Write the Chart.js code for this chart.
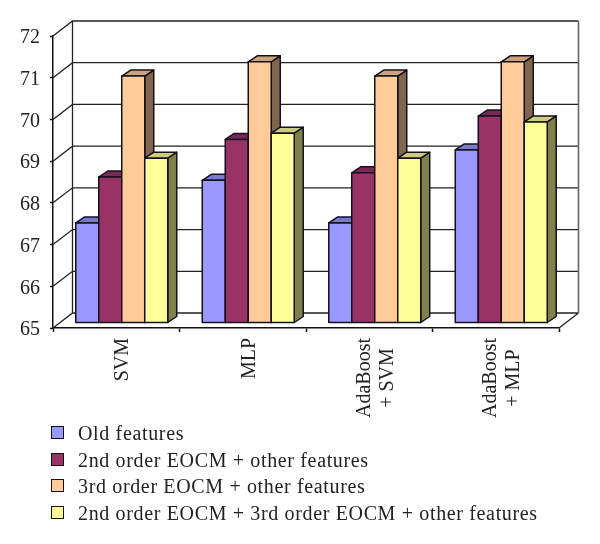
<!DOCTYPE html>
<html>
<head>
<meta charset="utf-8">
<script src="https://cdn.jsdelivr.net/npm/chart.js@4"></script>
<style>
  body { margin: 0; background: #fff; }
  #wrap { position: relative; width: 600px; height: 544px; }
  #legend { position: absolute; left: 51px; top: 419px; font: 20px "Liberation Serif", serif; letter-spacing: 0.65px; color: #222; }
  #legend div { position: relative; height: 26.7px; line-height: 26.7px; padding-left: 27px; white-space: nowrap; }
  #legend span { position: relative; top: 1px; }
  #legend i { position: absolute; left: 0; top: 7px; width: 11px; height: 11px; border: 1.5px solid #111; }
</style>
</head>
<body>
<div id="wrap">
  <canvas id="chart" width="600" height="544"></canvas>
  <div id="legend"></div>
</div>
<script>
const categories = [['SVM'], ['MLP'], ['AdaBoost', '+ SVM'], ['AdaBoost', '+ MLP']];
const seriesNames = [
  'Old features',
  '2nd order EOCM + other features',
  '3rd order EOCM + other features',
  '2nd order EOCM + 3rd order EOCM + other features'
];
const oldFeatures = [67.4, 68.42, 67.4, 69.15];
const secondOrder = [68.5, 69.4, 68.6, 69.96];
const thirdOrder = [70.92, 71.26, 70.92, 71.26];
const combined = [68.95, 69.55, 68.95, 69.82];

const frontColors = ['#9999ff', '#993366', '#ffcc99', '#ffff99'];
const topColors = ['#7a7acc', '#7a2952', '#cca37a', '#cccc7a'];
const sideColors = ['#4d4d80', '#4d1a33', '#80664d', '#80804d'];

const yMin = 65, yMax = 72;

// depth of the 3d box, and how far bars sit in front of the back wall
const wallDx = 19.5, wallDy = -15;
const barDx = 9, barDy = -6;
const shiftX = 5.5, shiftY = -5;

function poly(ctx, pts, fill) {
  ctx.beginPath();
  pts.forEach((p, i) => i ? ctx.lineTo(p[0], p[1]) : ctx.moveTo(p[0], p[1]));
  ctx.closePath();
  ctx.fillStyle = fill;
  ctx.fill();
  ctx.stroke();
}

// Draw each bar as a little box instead of a flat rectangle
Chart.BarElement.prototype.draw = function (ctx) {
  const i = frontColors.indexOf(this.options.backgroundColor);
  const l = this.x - this.width / 2 + shiftX;
  const r = this.x + this.width / 2 + shiftX;
  const t = this.y + shiftY;
  const b = this.base + shiftY;
  ctx.save();
  ctx.strokeStyle = '#14101c';
  ctx.lineWidth = 1.5;
  ctx.lineJoin = 'round';
  poly(ctx, [[r, t], [r + barDx, t + barDy], [r + barDx, b + barDy], [r, b]], sideColors[i]);
  poly(ctx, [[l, t], [l + barDx, t + barDy], [r + barDx, t + barDy], [r, t]], topColors[i]);
  poly(ctx, [[l, t], [r, t], [r, b], [l, b]], frontColors[i]);
  ctx.restore();
};

// Back wall, side wall and floor behind the bars
const wallPlugin = {
  id: 'walls',
  beforeDatasetsDraw(chart) {
    const { ctx, chartArea: a, scales: { y } } = chart;
    ctx.save();
    ctx.strokeStyle = '#222';
    ctx.lineWidth = 1.3;
    ctx.beginPath();
    y.ticks.forEach(tick => {
      const py = y.getPixelForValue(tick.value);
      ctx.moveTo(a.left, py);
      ctx.lineTo(a.left + wallDx, py + wallDy);
      ctx.lineTo(a.right + wallDx, py + wallDy);
    });
    ctx.moveTo(a.left + wallDx, a.top + wallDy);
    ctx.lineTo(a.left + wallDx, a.bottom + wallDy);
    ctx.moveTo(a.right, a.bottom);
    ctx.lineTo(a.right + wallDx, a.bottom + wallDy);
    ctx.stroke();
    ctx.strokeStyle = '#666';
    ctx.lineWidth = 1.6;
    ctx.beginPath();
    ctx.moveTo(a.right + wallDx, a.top + wallDy);
    ctx.lineTo(a.right + wallDx, a.bottom + wallDy);
    ctx.stroke();
    ctx.restore();

    // Chart.js paints the last dataset first; here the boxes have to overlap left to right
    chart.data.datasets.forEach((d, i) => chart.getDatasetMeta(i).controller.draw());
    return false;
  }
};

// Rotated category labels, each line centred inside the widest line of its block
const categoryLabelPlugin = {
  id: 'categoryLabels',
  afterDraw(chart) {
    const { ctx, scales: { x } } = chart;
    const lineGap = 23, labelTop = 338, labelShift = 6.5;
    ctx.save();
    ctx.font = '20px "Liberation Serif"';
    ctx.fillStyle = '#222';
    ctx.textAlign = 'center';
    ctx.textBaseline = 'middle';
    categories.forEach((lines, c) => {
      const block = Math.max(...lines.map(s => ctx.measureText(s).width));
      const cx = x.getPixelForTick(c) + labelShift;
      lines.forEach((line, n) => {
        ctx.save();
        ctx.translate(cx + (n - (lines.length - 1) / 2) * lineGap, labelTop + block / 2);
        ctx.rotate(-Math.PI / 2);
        ctx.fillText(line, 0, 0);
        ctx.restore();
      });
    });
    ctx.restore();
  }
};

const allSeries = [oldFeatures, secondOrder, thirdOrder, combined];

new Chart(document.getElementById('chart'), {
  type: 'bar',
  data: {
    labels: categories,
    datasets: allSeries.map((values, i) => ({
      label: seriesNames[i],
      data: values,
      base: yMin,
      backgroundColor: frontColors[i],
      categoryPercentage: 0.727,
      barPercentage: 1
    }))
  },
  options: {
    responsive: false,
    animation: false,
    layout: { padding: { top: 36, right: 41, left: 0, bottom: 0 } },
    plugins: { legend: { display: false }, tooltip: { enabled: false } },
    scales: {
      x: {
        afterFit(scale) { scale.height = 216; },
        border: { color: '#111', width: 1.5 },
        grid: { drawOnChartArea: false, tickLength: 4, tickColor: '#111', tickWidth: 1.5 },
        ticks: { display: false }
      },
      y: {
        min: yMin,
        max: yMax,
        afterFit(scale) { scale.width = 53; },
        border: { color: '#111', width: 1.5 },
        grid: { drawOnChartArea: false, tickLength: 3, tickColor: '#111', tickWidth: 1.5 },
        ticks: {
          color: '#222',
          stepSize: 1,
          font: { family: 'Liberation Serif', size: 20 },
          padding: 10,
          labelOffset: 2
        }
      }
    }
  },
  plugins: [wallPlugin, categoryLabelPlugin]
});

// Legend rows stacked under the plot
const legendBox = document.getElementById('legend');
seriesNames.forEach((name, i) => {
  const row = document.createElement('div');
  const swatch = document.createElement('i');
  const text = document.createElement('span');
  swatch.style.background = frontColors[i];
  text.textContent = name;
  row.appendChild(swatch);
  row.appendChild(text);
  legendBox.appendChild(row);
});
</script>
</body>
</html>
